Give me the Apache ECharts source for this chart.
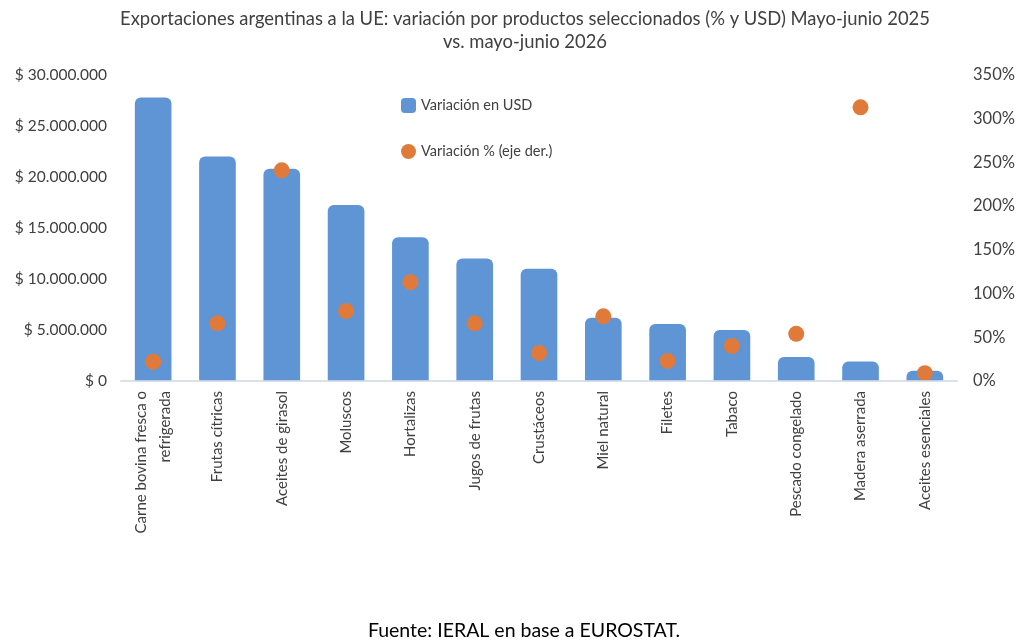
<!DOCTYPE html>
<html>
<head>
<meta charset="utf-8">
<script src="https://cdn.jsdelivr.net/npm/echarts@6/dist/echarts.min.js"></script>
<style>
html, body { margin: 0; padding: 0; background: #fff; }
#draw { width: 1024px; height: 644px; }
</style>
</head>
<body>
<div id="draw"></div>
<script>
// productos y valores
var productos = ['Carne bovina fresca o\nrefrigerada', 'Frutas cítricas', 'Aceites de girasol', 'Moluscos',
	'Hortalizas', 'Jugos de frutas', 'Crustáceos', 'Miel natural', 'Filetes', 'Tabaco',
	'Pescado congelado', 'Madera aserrada', 'Aceites esenciales'];
var variacionUSD = [27800000, 22000000, 20800000, 17250000, 14100000, 12000000, 11000000,
	6200000, 5600000, 5000000, 2350000, 1900000, 1000000];
var variacionPct = [22, 66, 241, 80, 113, 66, 32, 74, 23, 40, 54, 313, 9];

var fuente = 'Lato, "Open Sans", sans-serif';

var miles = function(v) {
	return '$ ' + String(v).replace(/\B(?=(\d{3})+(?!\d))/g, '.');
};

var myChart = echarts.init(document.getElementById('draw'));
var option = {
	textStyle : { fontFamily : fuente },
	animation : false,
	title : [ {
		text : 'Exportaciones argentinas a la UE: variación por productos seleccionados (% y USD) Mayo-junio 2025\nvs. mayo-junio 2026',
		left : 520,
		top : 3,
		textAlign : 'center',
		textStyle : { fontSize : 18.4, fontWeight : 'normal', color : '#404040', lineHeight : 23, fontFamily : fuente }
	}, {
		text : 'Fuente: IERAL en base a EUROSTAT.',
		left : 519,
		top : 616,
		textAlign : 'center',
		textStyle : { fontSize : 19.5, fontWeight : 'normal', color : '#000', fontFamily : fuente }
	} ],
	legend : {
		orient : 'vertical',
		left : 396,
		top : 93,
		itemGap : 31,
		itemWidth : 15,
		itemHeight : 15,
		textStyle : { fontSize : 14.5, color : '#404040' },
		data : [ { name : 'Variación en USD', icon : 'roundRect' }, { name : 'Variación % (eje der.)', icon : 'circle' } ]
	},
	grid : { left : 121, right : 67, top : 75, bottom : 263 },
	xAxis : {
		type : 'category',
		data : productos,
		axisLine : { show : true, lineStyle : { color : 'rgba(210,218,230,0.8)', width : 2 } },
		axisTick : { show : false },
		z : 10,
		axisLabel : {
			rotate : 90,
			interval : 0,
			margin : 10,
			fontSize : 15,
			color : '#404040',
			lineHeight : 24
		}
	},
	yAxis : [ {
		type : 'value',
		min : 0,
		max : 30000000,
		interval : 5000000,
		splitLine : { show : false },
		axisLine : { show : false },
		axisTick : { show : false },
		axisLabel : {
			fontSize : 15.5,
			color : '#404040',
			margin : 14,
			formatter : miles
		}
	}, {
		type : 'value',
		min : 0,
		max : 350,
		interval : 50,
		splitLine : { show : false },
		axisLine : { show : false },
		axisTick : { show : false },
		axisLabel : {
			fontSize : 16.5,
			color : '#404040',
			margin : 16,
			formatter : '{value}%'
		}
	} ],
	series : [ {
		name : 'Variación en USD',
		type : 'bar',
		data : variacionUSD,
		barWidth : '57%',
		itemStyle : { color : '#5f95d5', borderRadius : [ 6, 6, 0, 0 ] }
	}, {
		name : 'Variación % (eje der.)',
		type : 'scatter',
		yAxisIndex : 1,
		data : variacionPct,
		symbolSize : 16,
		itemStyle : { color : '#e07a3a', opacity : 1 }
	} ]
};
myChart.setOption(option);
</script>
</body>
</html>
